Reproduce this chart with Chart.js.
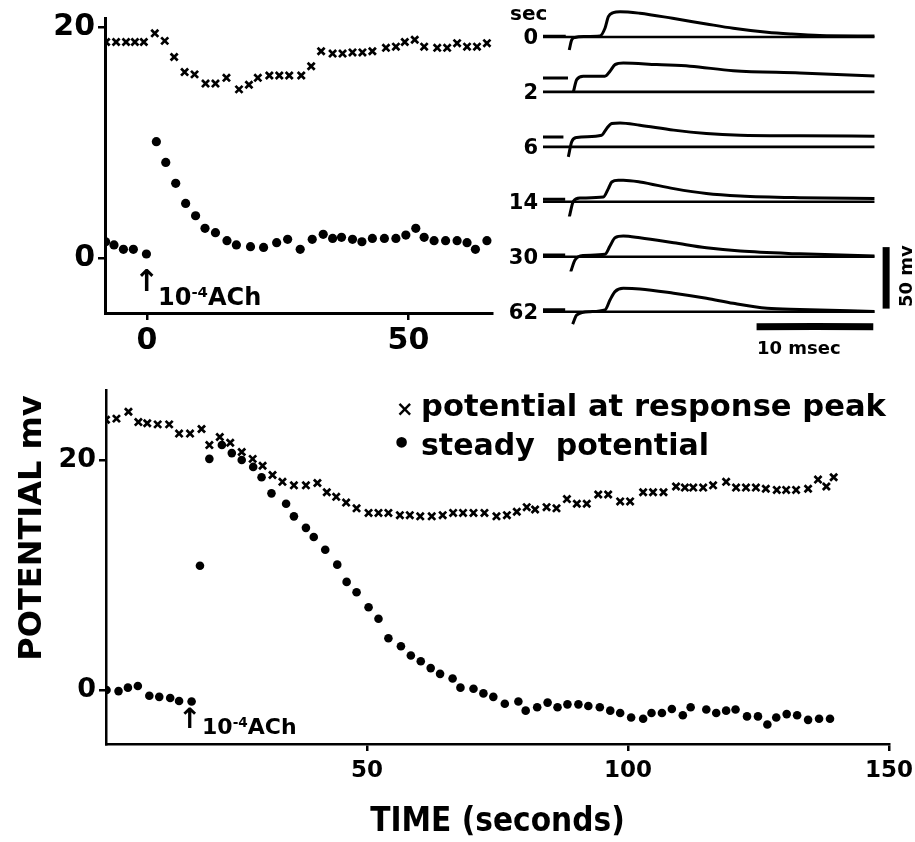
<!DOCTYPE html>
<html><head><meta charset="utf-8">
<script src="https://cdn.jsdelivr.net/npm/chart.js@4.4.1/dist/chart.umd.min.js"></script>
<style>
html,body{margin:0;padding:0;background:#fff;}
#wrap{position:relative;width:915px;height:842px;overflow:hidden;background:#fff;}
canvas{position:absolute;}
.t{position:absolute;color:#000;font-family:"DejaVu Sans",sans-serif;font-weight:bold;line-height:1;white-space:pre;}
.t sup{font-size:0.62em;vertical-align:0.55em;line-height:0;}
.r{text-align:right;}
</style></head><body>
<div id="wrap">
<canvas id="inset" width="500" height="360" style="left:0;top:0"></canvas>
<canvas id="main" width="915" height="472" style="left:0;top:370px"></canvas>
<canvas id="sweeps" width="372" height="345" style="left:543px;top:-4px"></canvas>

<div class="t" style="left:510px;top:3px;font-size:20px">sec</div>
<div id="sweepLabels"></div>
<div class="t" style="left:757px;top:339px;font-size:18px">10 msec</div>
<div class="t" style="left:876px;top:268px;font-size:18px;transform:rotate(-90deg);transform-origin:30px 9px;width:60px">50 mv</div>

<div class="t" style="left:134px;top:266px;font-size:30px">↑</div>
<div class="t" style="left:158px;top:285px;font-size:24px">10<sup>-4</sup>ACh</div>
<div class="t" style="left:178px;top:705px;font-size:28px">↑</div>
<div class="t" style="left:202px;top:716px;font-size:22px">10<sup>-4</sup>ACh</div>

<div id="legend"></div>
<div class="t" style="left:-118px;top:512px;font-size:32px;transform:rotate(-90deg);transform-origin:148px 16px;width:296px;text-align:center">POTENTIAL mv</div>
</div>
<script>
// ---------- data ----------
const seriesNames = ['potential at response peak', 'steady  potential'];

// inset (top-left) plot
const insetXTicks = [0, 50];
const insetYTicks = [0, 20];
const insetPeakSec = [-7.8,-5.9,-4.0,-2.3,-0.6,1.5,3.4,5.2,7.2,9.1,11.2,13.1,15.2,17.6,19.5,21.2,23.4,25.3,27.2,29.5,31.4,33.3,35.5,37.4,39.3,41.2,43.1,45.7,47.6,49.3,51.2,53.0,55.5,57.4,59.3,61.2,63.1,65.0];
const insetPeakMv  = [18.7,18.7,18.7,18.7,18.7,19.45,18.8,17.4,16.1,15.9,15.1,15.1,15.6,14.6,15.0,15.6,15.8,15.8,15.8,15.8,16.6,17.9,17.7,17.7,17.8,17.8,17.9,18.2,18.3,18.7,18.9,18.3,18.2,18.2,18.6,18.3,18.3,18.6];
const insetSteadySec = [-7.9,-6.3,-4.5,-2.6,-0.1,1.8,3.6,5.5,7.4,9.3,11.1,13.1,15.3,17.1,19.8,22.3,24.8,26.9,29.3,31.6,33.7,35.5,37.2,39.3,41.1,43.1,45.4,47.6,49.5,51.4,53.0,54.9,57.1,59.3,61.2,62.8,65.0];
const insetSteadyMv  = [1.41,1.13,0.75,0.75,0.35,10.07,8.28,6.47,4.73,3.66,2.57,2.19,1.5,1.13,0.98,0.92,1.33,1.62,0.75,1.62,2.05,1.7,1.79,1.62,1.41,1.7,1.7,1.7,1.99,2.57,1.79,1.5,1.5,1.5,1.33,0.75,1.5];

// main (bottom) plot
const mainXTicks = [50, 100, 150];
const mainYTicks = [0, 20];
const mainPeakSec = [0,2.0,4.3,6.2,7.9,9.9,12.1,14.0,16.1,18.3,19.8,21.8,23.8,26.0,28.1,30.0,31.9,33.8,36.0,38.3,40.5,42.3,44.1,46.0,48.0,50.3,52.2,54.1,56.3,58.2,60.2,62.4,64.5,66.5,68.4,70.4,72.5,74.8,76.8,78.7,80.6,82.2,84.4,86.3,88.3,90.2,92.1,94.3,96.2,98.5,100.4,102.9,104.8,106.8,109.2,110.9,112.5,114.4,116.3,118.8,120.7,122.6,124.5,126.4,128.5,130.3,132.2,134.5,136.4,138.0,139.4];
const mainPeakMv  = [23.5,23.6,24.2,23.3,23.2,23.1,23.1,22.3,22.3,22.7,21.3,22.0,21.5,20.7,20.1,19.5,18.7,18.1,17.8,17.8,18.0,17.2,16.8,16.3,15.8,15.4,15.4,15.4,15.2,15.2,15.1,15.1,15.2,15.4,15.4,15.4,15.4,15.1,15.2,15.5,15.9,15.7,15.9,15.8,16.6,16.2,16.2,17.0,17.0,16.4,16.4,17.2,17.2,17.2,17.7,17.6,17.6,17.6,17.8,18.1,17.6,17.6,17.6,17.5,17.4,17.4,17.4,17.5,18.3,17.7,18.5];
const mainSteadySec = [0.1,2.4,4.2,6.1,8.3,10.2,12.3,14.0,16.4,18.0,19.8,22.2,24.1,26.0,28.2,29.8,31.7,34.5,36.0,38.3,39.8,42.0,44.3,46.1,48.0,50.3,52.2,54.1,56.5,58.4,60.3,62.2,64.0,66.4,67.9,70.4,72.3,74.2,76.4,79.0,80.4,82.6,84.6,86.5,88.4,90.5,92.4,94.6,96.6,98.5,100.6,102.9,104.5,106.5,108.4,110.5,112.0,115.0,116.9,118.8,120.6,122.8,124.9,126.7,128.4,130.4,132.4,134.5,136.6,138.7];
const mainSteadyMv  = [0,-0.1,0.2,0.35,-0.5,-0.6,-0.7,-0.96,-1.0,10.8,20.1,21.3,20.6,20.0,19.4,18.5,17.1,16.2,15.1,14.1,13.3,12.2,10.9,9.4,8.5,7.2,6.2,4.5,3.8,3.0,2.5,1.9,1.4,1.0,0.2,0.1,-0.3,-0.6,-1.2,-1.0,-1.8,-1.5,-1.1,-1.5,-1.25,-1.25,-1.4,-1.5,-1.8,-2.0,-2.4,-2.5,-2.0,-2.0,-1.65,-2.2,-1.5,-1.7,-2.0,-1.8,-1.7,-2.3,-2.3,-3.0,-2.4,-2.1,-2.2,-2.6,-2.5,-2.5];

// oscilloscope sweeps: [msec, mV relative to resting level]; null = artefact gap
const sweepSec = ['0', '2', '6', '14', '30', '62'];
const restSweep = [[0,0],[28.4,0]];
const sweep0  = [[0,0.5],[1.95,0.5],[2.1,null],[2.25,-10.6],[2.46,-2.4],[2.74,-0.4],[3.5,0.4],[4.88,0.8],[5.31,7.1],[5.6,16.5],[6.02,19.8],[6.6,20.6],[8.3,19.3],[11.1,15.2],[14.0,10.6],[16.3,7.1],[19.2,3.8],[21.2,2.4],[23.7,1.2],[28.4,0.8]];
const sweep2  = [[0,11.4],[2.14,11.4],[2.4,null],[2.6,0],[2.89,10.0],[3.45,12.8],[5.31,12.8],[5.74,16.8],[6.17,22.2],[6.88,23.6],[9.74,22.2],[12.6,20.9],[16.3,17.3],[22.0,15.4],[28.4,13.0]];
const sweep6  = [[0,8.1],[1.75,8.1],[2.0,null],[2.17,-8.1],[2.46,4.1],[2.89,7.6],[5.03,9.5],[5.46,15.0],[5.89,19.0],[6.6,19.5],[8.3,17.6],[11.2,13.6],[14.0,10.9],[16.9,9.5],[22.0,9.0],[28.4,8.7]];
const sweep14 = [[0,2],[1.9,2],[2.05,null],[2.25,-12.4],[2.6,0.4],[3.17,3.1],[5.17,3.9],[5.6,10.7],[5.89,16.1],[6.45,17.5],[6.88,17.5],[8.3,16.1],[11.2,10.7],[14.0,6.7],[16.9,4.7],[22.0,3.3],[28.4,2.6]];
const sweep30 = [[0,1.5],[1.9,1.5],[2.1,null],[2.37,-12.4],[2.74,-2.7],[3.45,1.1],[5.31,2.0],[5.74,8.7],[6.17,15.4],[6.88,16.8],[8.3,15.4],[11.2,11.4],[14.0,7.3],[16.9,4.6],[22.0,2.4],[28.4,0.6]];
const sweep62 = [[0,1.5],[1.9,1.5],[2.2,null],[2.54,-10.2],[2.89,-2.7],[4.03,0],[5.31,1.4],[5.74,9.5],[6.17,16.3],[6.88,19.0],[8.3,18.5],[11.2,15.0],[14.0,10.9],[16.3,6.8],[19.2,2.8],[22.0,1.8],[28.4,0.2]];
const timeBarMs = [18.3, 28.3];   // 10 msec calibration
const voltBarMv = [2.5, 52.5];    // 50 mV calibration

// ---------- drawing ----------
const INK = '#000';
const pts = (xs, ys) => xs.map((x, i) => ({x: x, y: ys[i]}));
const pairPts = arr => arr.map(p => ({x: p[0], y: p[1]}));
const fixTicks = list => s => { s.ticks = list.map(v => ({value: v})); };
const fixSize = (w, h) => s => {
  if (w !== null) s.width = w;
  if (h !== null) s.height = h;
  s.paddingLeft = 0; s.paddingRight = 0; s.paddingTop = 0; s.paddingBottom = 0;
};

function axis(opts) {
  return Object.assign({
    type: 'linear',
    grid: {display: true, drawOnChartArea: false, drawTicks: true, tickLength: 7, lineWidth: 2.5, color: INK},
    border: {display: true, width: 3, color: INK},
    ticks: {color: INK, font: {family: 'DejaVu Sans', size: 28, weight: 'bold'}, padding: 3, maxRotation: 0, autoSkip: false}
  }, opts);
}
const peakStyle = {pointStyle: 'crossRot', pointRadius: 5, borderColor: INK, borderWidth: 2.7, backgroundColor: INK};
const steadyStyle = {pointStyle: 'circle', pointRadius: 4.6, borderWidth: 0, backgroundColor: INK};
const baseOpts = {responsive: false, animation: false, devicePixelRatio: 1, events: [],
  plugins: {legend: {display: false}, tooltip: {enabled: false}}};

new Chart(document.getElementById('inset'), {
  type: 'scatter',
  data: {datasets: [
    Object.assign({label: seriesNames[0], data: pts(insetPeakSec, insetPeakMv)}, peakStyle),
    Object.assign({label: seriesNames[1], data: pts(insetSteadySec, insetSteadyMv)}, steadyStyle)
  ]},
  options: Object.assign({}, baseOpts, {
    layout: {padding: {top: 18, right: 7, left: 0, bottom: 0}},
    scales: {
      x: axis({min: -8.02, max: 66.03, afterBuildTicks: fixTicks(insetXTicks), afterFit: fixSize(null, 47),
        ticks: {color: INK, font: {family: 'DejaVu Sans', size: 30, weight: 'bold'}, padding: 3, maxRotation: 0, autoSkip: false}}),
      y: axis({min: -4.76, max: 20.78, afterBuildTicks: fixTicks(insetYTicks), afterFit: fixSize(105, null),
        ticks: {color: INK, font: {family: 'DejaVu Sans', size: 30, weight: 'bold'}, padding: 3, maxRotation: 0, autoSkip: false}})
    }
  })
});

new Chart(document.getElementById('main'), {
  type: 'scatter',
  data: {datasets: [
    Object.assign({label: seriesNames[0], data: pts(mainPeakSec, mainPeakMv)}, peakStyle),
    Object.assign({label: seriesNames[1], data: pts(mainSteadySec, mainSteadyMv)}, steadyStyle, {pointRadius: 4.3})
  ]},
  options: Object.assign({}, baseOpts, {
    layout: {padding: {top: 20, right: 26, left: 0, bottom: 0}},
    scales: {
      x: axis({min: 0, max: 150, afterBuildTicks: fixTicks(mainXTicks), afterFit: fixSize(null, 98),
        border: {display: true, width: 2.5, color: INK},
        ticks: {color: INK, font: {family: 'DejaVu Sans', size: 23, weight: 'bold'}, padding: 6, maxRotation: 0, autoSkip: false},
        title: {display: true, text: 'TIME (seconds)', color: INK,
          font: {family: "'DejaVu Sans Condensed', 'DejaVu Sans'", size: 33, weight: 'bold'}, padding: {top: 0, bottom: 0}}}),
      y: axis({min: -4.70, max: 26.09, afterBuildTicks: fixTicks(mainYTicks), afterFit: fixSize(106, null),
        border: {display: true, width: 2.5, color: INK},
        ticks: {color: INK, font: {family: 'DejaVu Sans', size: 27, weight: 'bold'}, padding: 3, maxRotation: 0, autoSkip: false}})
    }
  })
});

// sweeps: one stacked y-axis per recording time
const sweepData = [sweep0, sweep2, sweep6, sweep14, sweep30, sweep62];
const sweepScales = {x: {type: 'linear', display: false, min: 0, max: 31}};
for (let i = sweepSec.length - 1; i >= 0; i--) {
  sweepScales['p' + i] = {type: 'linear', display: false, position: 'left', stack: 'sweeps', stackWeight: 1,
    min: -12, max: 32.67, afterFit: fixSize(0, null)};
}
const lineStyle = {showLine: true, pointRadius: 0, borderColor: INK, backgroundColor: INK, borderWidth: 3,
  cubicInterpolationMode: 'monotone', spanGaps: false};
const sweepSets = [];
sweepData.forEach((sw, i) => {
  sweepSets.push(Object.assign({label: 'rest ' + sweepSec[i], data: pairPts(restSweep), yAxisID: 'p' + i}, lineStyle, {borderWidth: 2.6}));
  sweepSets.push(Object.assign({label: 'response ' + sweepSec[i], data: pairPts(sw), yAxisID: 'p' + i}, lineStyle));
});
const last = 'p' + (sweepSec.length - 1);
sweepSets.push(Object.assign({label: '10 msec', data: timeBarMs.map(t => ({x: t, y: -12.2})), yAxisID: last, clip: false}, lineStyle, {borderWidth: 7, borderCapStyle: 'butt'}));
sweepSets.push(Object.assign({label: '50 mV', data: voltBarMv.map(v => ({x: 29.4, y: v})), yAxisID: last, clip: false}, lineStyle, {borderWidth: 7, borderCapStyle: 'butt'}));

new Chart(document.getElementById('sweeps'), {
  type: 'scatter',
  data: {datasets: sweepSets},
  options: Object.assign({}, baseOpts, {
    layout: {padding: {top: 0.8, right: 10.2, left: 0, bottom: 14.56}},
    scales: sweepScales
  })
});

// sweep time labels
const sweepTops = [27, 82, 137, 192, 247, 302];
document.getElementById('sweepLabels').innerHTML = sweepSec.map((s, i) =>
  '<div class="t r" style="left:490px;width:48px;top:' + sweepTops[i] + 'px;font-size:21px">' + s + '</div>').join('');

// legend text
document.getElementById('legend').innerHTML =
  '<div class="t" style="left:396px;top:399px;font-size:21px">×</div>' +
  '<div class="t" style="left:421px;top:391px;font-size:30.6px">' + seriesNames[0] + '</div>' +
  '<div class="t" style="left:392px;top:429px;font-size:30px">•</div>' +
  '<div class="t" style="left:421px;top:430px;font-size:30px">' + seriesNames[1] + '</div>';
</script>
</body></html>
